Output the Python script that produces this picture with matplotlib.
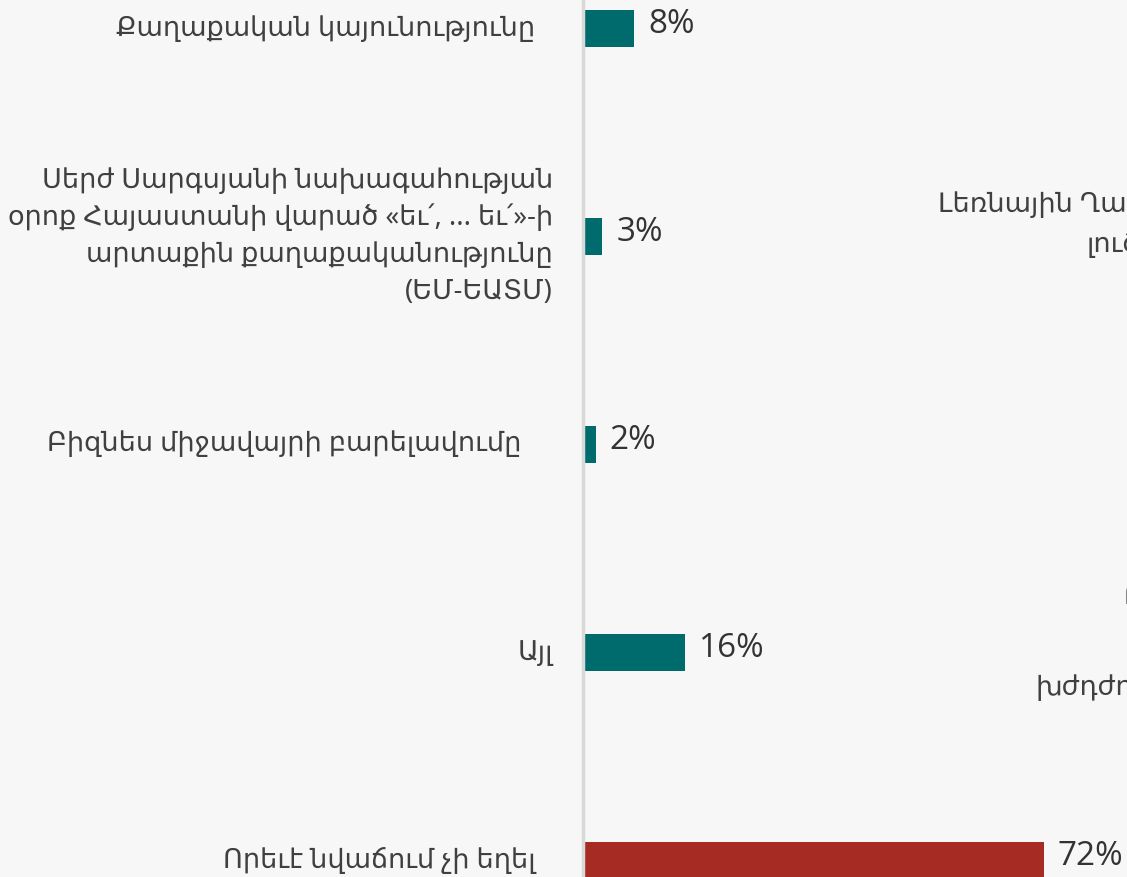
import matplotlib.pyplot as plt

# data
labels = [
    "Քաղաքական կայունությունը",
    "Սերժ Սարգսյանի նախագահության\nօրոք Հայաստանի վարած «եւ՛, ... եւ՛»-ի\nարտաքին քաղաքականությունը\n(ԵՄ-ԵԱՏՄ)",
    "Բիզնես միջավայրի բարելավումը",
    "Այլ",
    "Որեւէ նվաճում չի եղել",
]
values = [8, 3, 2, 16, 72]
colors = ["#006b6d", "#006b6d", "#006b6d", "#006b6d", "#a62b22"]

# right edge of each category label, in pixels from the left of the figure
label_right = [535, 553, 521, 553, 536]

W, H = 1127, 877
bg = "#f7f7f7"
fam = ["Noto Sans", "DejaVu Sans"]

fig = plt.figure(figsize=(W / 100, H / 100), dpi=100, facecolor=bg)
ax = fig.add_axes([583 / W, 0, (W - 583) / W, 1])
ax.set_facecolor(bg)

pos = list(range(len(values)))
ax.barh(pos, values, height=0.178, color=colors)
ax.set_xlim(0, (W - 583) / 6.4)
ax.set_ylim((H - 28.5) / 208, -28.5 / 208)

for s in ["top", "right", "bottom"]:
    ax.spines[s].set_visible(False)
ax.spines["left"].set_color("#d9d9d9")
ax.spines["left"].set_linewidth(2.5)
ax.set_xticks([])
ax.set_yticks([])

for p, v in zip(pos, values):
    ax.annotate(f"{v}%", (v, p), xytext=(14, 4), textcoords="offset pixels",
                va="center", ha="left", fontsize=24, color="#333333",
                family=["Open Sans", "DejaVu Sans"])

for p, lab, r in zip(pos, labels, label_right):
    y = 1 - (28.5 + 208 * p) / H
    fig.text(r / W, y, lab, ha="right", va="center", fontsize=19.5,
             color="#404040", family=fam, linespacing=1.42, multialignment="right")

# fragments of the neighbouring chart cut off at the right edge
fig.text(938 / W, 1 - 205 / H, "Լեռնային Ղարաբաղի", ha="left", va="center",
         fontsize=19.5, color="#404040", family=fam)
fig.text(1087 / W, 1 - 245 / H, "լուծումը", ha="left", va="center",
         fontsize=19.5, color="#404040", family=fam)
fig.text(1124 / W, 1 - 597 / H, "Բ", ha="left", va="center",
         fontsize=19.5, color="#404040", family=fam)
fig.text(1035 / W, 1 - 688 / H, "խժդժություններ", ha="left", va="center",
         fontsize=19.5, color="#404040", family=fam)

fig.savefig("out.png", dpi=100, facecolor=bg)
